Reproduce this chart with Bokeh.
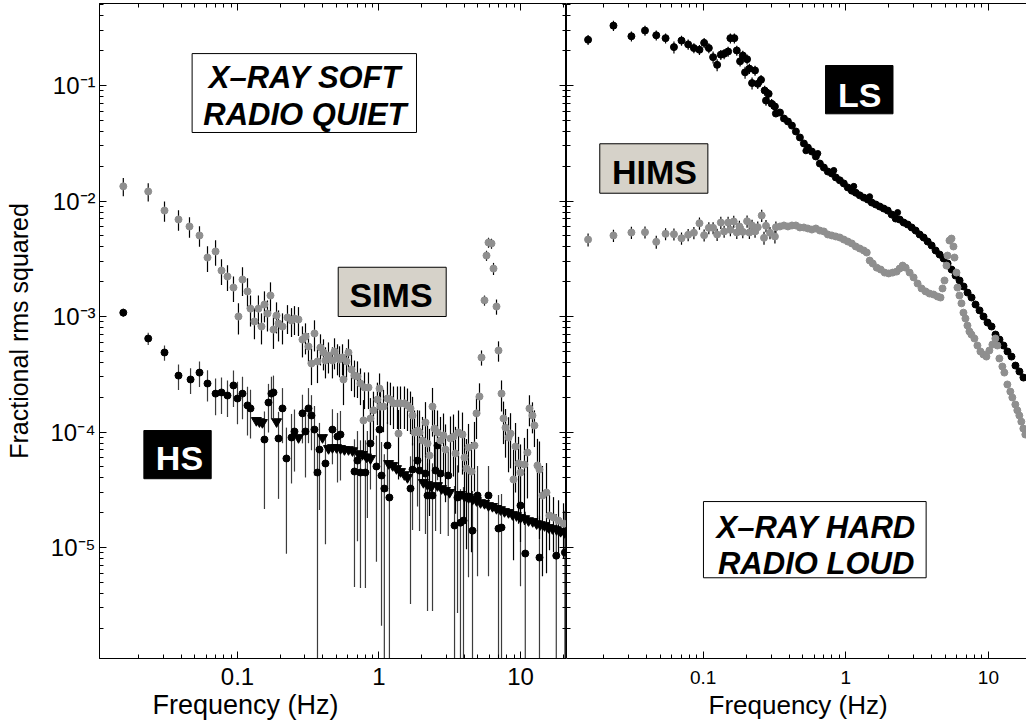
from bokeh.plotting import figure
from bokeh.models import Range1d, LogAxis, FixedTicker, Label, BoxAnnotation, ColumnDataSource, CustomJSTickFormatter, Title
from bokeh.layouts import row
from bokeh.embed import file_html
from bokeh.resources import INLINE

FONT = "Liberation Sans"
GRAY = "#8f8f8f"
BOXGRAY = "#d6d2c9"

# ---------------- left panel: SIMS (grey) ----------------
sims_f = [0.0156,0.0234,0.0305,0.0383,0.0458,0.0539,0.0614,0.0700,0.0771,0.0850,
          0.0937,0.1016,0.1085,0.1177,0.1236,0.1318,0.1406,0.1478,0.1551,0.1629,
          0.1711,0.1796,0.1887,0.1950,0.2080,0.2256,0.2409,0.2528,0.2698,0.2879,
          0.3024,0.3175,0.3334,0.3501,0.3676,0.3860,0.4053,0.4186,0.4395,0.4689,
          0.4850,0.5092,0.5260,0.5523,0.5613,0.5893,0.6087,0.6392,0.6712,0.7047,
          0.7399,0.7769,0.7900,0.8427,0.8704,0.9140,0.9750,1.009,1.025,1.076,
          1.148,1.205,1.266,1.351,1.374,1.419,1.514,1.590,1.670,1.726,
          1.783,1.872,1.934,2.030,2.131,2.203,2.275,2.389,2.468,2.591,
          2.721,2.857,2.952,3.201,3.361,3.473,3.647,3.891,4.020,4.153,
          4.291,4.506,4.731,4.888,5.132,5.302,5.567,5.752,5.942,6.239,
          6.446,6.768,6.993,7.343,7.586,7.838,8.230,8.503,8.928,9.224,
          9.685,10.0,10.67,11.20,11.57,12.15,12.55,13.18,13.62,14.30,
          15.27,16.03,17.11,18.57,20.14]
sims_p = [1.34e-2,1.21e-2,8.27e-3,6.92e-3,6.02e-3,5.03e-3,3.24e-3,3.66e-3,2.50e-3,2.22e-3,
          1.78e-3,1.0e-3,2.09e-3,1.65e-3,1.17e-3,9.06e-4,1.17e-3,8.19e-4,1.27e-3,1.06e-3,
          1.52e-3,7.71e-4,1.02e-3,8.69e-4,8.19e-4,9.80e-4,9.23e-4,9.61e-4,9.42e-4,6.32e-4,
          6.71e-4,5.50e-4,3.92e-4,7.13e-4,4.08e-4,5.39e-4,4.88e-4,4.16e-4,4.59e-4,4.16e-4,
          4.98e-4,4.42e-4,4.25e-4,4.42e-4,2.85e-4,4.08e-4,4.88e-4,3.48e-4,3.08e-4,3.03e-4,
          2.63e-4,1.26e-4,2.43e-4,2.43e-4,1.31e-4,1.54e-4,1.91e-4,2.38e-4,1.66e-4,1.66e-4,
          1.95e-4,1.91e-4,1.77e-4,1.77e-4,9.70e-5,1.77e-4,1.77e-4,1.70e-4,1.60e-4,1.39e-4,
          9.90e-5,1.03e-4,9.90e-5,8.44e-5,1.21e-4,7.95e-5,6.26e-5,1.66e-4,1.07e-4,9.90e-5,
          8.44e-5,9.33e-5,7.05e-5,8.79e-5,9.14e-5,6.52e-5,9.90e-5,9.51e-5,6.01e-5,4.83e-5,
          7.34e-5,4.55e-5,7.64e-5,1.45e-4,2.03e-4,4.42e-4,1.38e-3,3.37e-3,4.37e-3,4.29e-3,
          2.60e-3,1.22e-3,5.08e-4,2.15e-4,1.31e-4,1.09e-4,8.96e-5,9.70e-5,3.88e-5,7.48e-5,
          5.34e-5,4.46e-5,5.23e-5,6.65e-5,1.60e-4,1.39e-4,1.14e-4,5.13e-5,4.73e-5,2.82e-5,
          2.99e-5,1.89e-5,1.82e-5,1.71e-5,1.61e-5]
sims_err = [0.18,0.18,0.2,0.2,0.2,0.2,
            0.25,0.25,0.25,0.25,0.25,0.3,
            0.28,0.3,0.3,0.3,0.3,0.3,0.3,0.3,
            0.3,0.32,0.3,0.3,0.3,0.28,0.28,0.28,0.28,0.3,
            0.3,0.3,0.35,0.3,0.35,0.3,0.3,0.3,0.3,0.3,
            0.3,0.3,0.3,0.3,0.4,0.3,0.3,0.35,0.35,0.35,
            0.35,0.5,0.35,0.35,0.5,0.45,0.4,0.35,0.4,0.4,
            0.4,0.4,0.4,0.4,0.6,0.4,0.4,0.4,0.4,0.45,
            0.55,0.5,0.55,0.6,0.5,0.6,0.7,0.45,0.55,0.55,
            0.6,0.55,0.65,0.55,0.55,0.7,0.55,0.55,0.7,0.8,
            0.6,0.8,0.6,0.4,0.3,0.15,0.1,0.1,0.1,0.1,
            0.12,0.15,0.2,0.3,0.4,0.45,0.5,0.5,0.8,0.6,
            0.7,0.75,0.7,0.6,0.3,0.3,0.35,0.7,0.75,0.8,
            0.8,0.5,0.5,0.5,0.5]

# ---------------- left panel: HS (black) ----------------
hs_f = [0.0156,0.0234,0.0305,0.0383,0.0466,0.0539,0.0614,0.0700,0.0771,0.0850,
        0.0937,0.1000,0.1085,0.1177,0.1236,0.1551,0.1656,0.1738,0.1796,0.1950,
        0.2080,0.2218,0.2409,0.2528,0.2879,0.3024,0.3175,0.3334,0.3501,0.3676,
        0.3797,0.4186,0.4689,0.5092,0.5343,0.6712,0.7047,0.7399,0.8020,0.8280,
        0.8704,0.9596,1.009,1.042,1.091,1.148,1.185,1.670,1.726,1.872,
        1.934,2.131,2.203,2.389,2.511,2.591,2.721,3.087,3.419,3.589,
        3.766,3.955,4.291,4.58,4.97,5.942,6.993,7.343,10.0,10.81,
        13.62,17.9,20.6]
hs_p = [1.08e-3,6.45e-4,4.88e-4,3.08e-4,2.85e-4,3.27e-4,2.63e-4,2.15e-4,2.20e-4,2.07e-4,
        2.53e-4,1.95e-4,2.15e-4,1.70e-4,1.60e-4,8.61e-5,1.80e-4,2.15e-4,2.20e-4,8.79e-5,
        1.60e-4,5.90e-5,8.96e-5,1.01e-4,1.45e-4,1.01e-4,1.60e-4,1.39e-4,1.05e-4,4.46e-5,
        7.05e-5,5.34e-5,1.05e-4,9.14e-5,9.51e-5,4.55e-5,5.66e-5,4.46e-5,4.46e-5,6.01e-5,
        7.95e-5,5.03e-5,1.05e-4,4.20e-5,3.24e-5,7.64e-5,2.71e-5,3.24e-5,4.73e-5,5.66e-5,
        4.64e-5,4.37e-5,2.82e-5,2.82e-5,4.64e-5,7.64e-5,4.37e-5,4.20e-5,1.55e-5,2.71e-5,
        1.64e-5,1.71e-5,2.77e-5,1.40e-5,2.82e-5,2.82e-5,1.46e-5,1.49e-5,2.31e-5,8.87e-6,
        8.19e-6,8.5e-6,9.06e-6]
hs_err = [0.08,0.12,0.15,0.25,0.25,0.25,0.3,0.35,0.35,0.35,
          0.35,0.4,0.4,0.45,0.45,0.75,0.45,0.4,0.4,0.7,
          0.5,0.85,0.6,0.55,0.45,0.6,0.5,0.5,0.6,1.2,
          0.7,0.8,0.5,0.6,0.6,0.9,0.8,0.9,0.9,0.7,
          0.6,0.85,0.5,0.95,0.98,0.6,1.1,0.9,0.7,0.6,
          0.7,0.7,0.9,0.9,0.7,0.5,0.7,0.7,1.2,0.9,
          0.95,0.95,0.8,1.2,0.8,0.8,0.95,0.95,0.8,1.3,
          1.3,1.3,1.3]

# HS upper limits (triangles)
hs_ul_f = [0.136,0.143,0.150,0.189,0.270,0.399,0.440,0.469,0.501,0.535,
           0.570,0.609,0.650,0.716,0.764,0.816,0.871,1.17,1.25,1.33,
           1.42,1.51,1.59,2.06,2.20,2.35,2.59,2.77,2.95,3.15,
           3.77,4.02,4.30,4.58,4.89,5.22,5.57,5.94,6.34,6.77,
           7.22,7.71,8.23,8.78,9.37,10.0,10.7,11.4,12.2,13.0,
           13.8,14.8,15.8,16.8,18.0,19.2,20.5]
hs_ul_p = [1.26e-4,1.23e-4,1.21e-4,1.23e-4,8.96e-5,8.96e-5,7.2e-5,7.34e-5,7.34e-5,7.2e-5,
           7.05e-5,7.05e-5,6.9e-5,6.5e-5,6.4e-5,6.1e-5,5.9e-5,5.34e-5,5.13e-5,4.83e-5,
           4.55e-5,4.28e-5,4.04e-5,3.66e-5,3.51e-5,3.37e-5,3.44e-5,3.24e-5,3.12e-5,3.0e-5,
           2.88e-5,2.77e-5,2.71e-5,2.61e-5,2.55e-5,2.45e-5,2.41e-5,2.31e-5,2.27e-5,2.18e-5,
           2.13e-5,2.05e-5,2.01e-5,1.93e-5,1.89e-5,1.82e-5,1.78e-5,1.71e-5,1.68e-5,1.61e-5,
           1.58e-5,1.55e-5,1.49e-5,1.46e-5,1.43e-5,1.38e-5,1.35e-5]

# ---------------- right panel: LS (black) ----------------
ls_f = [0.0156,0.0235,0.0314,0.0391,0.0469,0.0545,0.0624,0.0705,0.0785,0.0861,
        0.0942,0.1016,0.1096,0.1174,0.1253,0.1330,0.1403,0.1496,0.1552,0.1655,
        0.1721,0.1815,0.1896,0.1967,0.2032,0.2109,0.2202,0.2311,0.2414,0.2546,
        0.2700,0.2758,0.2879,0.3022,0.3186]
ls_p = [0.249,0.330,0.267,0.299,0.272,0.257,0.215,0.245,0.227,0.211,
        0.204,0.234,0.211,0.176,0.151,0.185,0.188,0.197,0.257,0.257,
        0.201,0.162,0.182,0.130,0.169,0.140,0.105,0.135,0.1035,0.112,
        0.0905,0.0741,0.0848,0.0695,0.0658]
ls_err = [0.1,0.1,0.1,0.1,0.1,0.1,0.12,0.1,0.1,0.1,
          0.1,0.1,0.1,0.12,0.12,0.1,0.1,0.1,0.1,0.1,
          0.1,0.1,0.1,0.12,0.1,0.1,0.12,0.1,0.1,0.1,
          0.1,0.1,0.1,0.1,0.1]
ls_hf_f = [0.3236,0.3455,0.3686,0.3930,0.4192,0.4470,0.4768,0.5085,0.5424,0.5785,
           0.6170,0.6581,0.7019,0.7486,0.7984,0.8515,0.9082,0.9687,1.033,1.102,
           1.175,1.253,1.337,1.426,1.521,1.622,1.730,1.845,1.968,2.099,
           2.239,2.388,2.547,2.716,2.897,3.090,3.296,3.515,3.749,3.999,
           4.265,4.549,4.852,5.175,5.520,5.887,6.279,6.697,7.143,7.619,
           8.126,8.667,9.244,9.860,10.52,11.22,11.96,12.76,13.61,14.52,
           15.48,16.51,17.61]
ls_hf_p = [0.0572,0.0584,0.0518,0.0488,0.0450,0.0400,0.0355,0.0315,0.0290,0.0268,
           0.0243,0.0211,0.0195,0.0180,0.0173,0.0160,0.0151,0.0142,0.0131,0.0123,
           0.0118,0.0112,0.0107,0.0103,9.70e-3,9.33e-3,8.96e-3,8.61e-3,8.27e-3,7.64e-3,
           7.05e-3,6.91e-3,6.51e-3,6.26e-3,5.90e-3,5.55e-3,5.13e-3,4.83e-3,4.46e-3,4.12e-3,
           3.73e-3,3.44e-3,3.18e-3,2.88e-3,2.55e-3,2.26e-3,2.05e-3,1.82e-3,1.61e-3,1.46e-3,
           1.27e-3,1.13e-3,1.0e-3,8.87e-4,8.19e-4,6.98e-4,6.32e-4,5.61e-4,4.98e-4,4.50e-4,
           3.76e-4,3.34e-4,2.96e-4]
# scattered LS points off the main track (0.5-2 Hz)
ls_sc_f = [0.525, 0.637, 0.824, 1.138, 1.47, 2.31]
ls_sc_p = [0.0272, 0.0258, 0.0184, 0.0134, 0.0109, 7.95e-3]

# ---------------- right panel: HIMS (grey) ----------------
hims_f = [0.0156,0.0235,0.0314,0.0391,0.0469,0.0545,0.0624,0.0705,0.0785,0.0861,
          0.0942,0.1016,0.1096,0.1174,0.1253,0.1330,0.1403,0.1496,0.1552,0.1639,
          0.1721,0.1795,0.1896,0.2032,0.2109,0.2202,0.2311,0.2414,0.2573,0.2671,
          0.2758,0.2941,0.3186,0.3236]
hims_p = [4.64e-3,5.03e-3,5.34e-3,5.37e-3,4.43e-3,5.20e-3,5.16e-3,4.76e-3,5.10e-3,5.31e-3,
          6.42e-3,5.06e-3,5.86e-3,5.86e-3,5.13e-3,6.51e-3,5.45e-3,6.51e-3,5.63e-3,6.65e-3,
          5.34e-3,6.02e-3,5.41e-3,6.68e-3,5.34e-3,6.14e-3,5.45e-3,5.93e-3,7.49e-3,4.80e-3,
          6.10e-3,5.31e-3,4.93e-3,5.93e-3]
hims_err = [0.13,0.12,0.12,0.12,0.13,0.12,0.12,0.12,0.12,0.12,
            0.12,0.12,0.12,0.12,0.12,0.12,0.12,0.12,0.12,0.12,
            0.12,0.12,0.12,0.12,0.12,0.12,0.12,0.12,0.12,0.13,
            0.12,0.12,0.13,0.12]
hims_hf_f = [0.3455,0.3686,0.3930,0.4192,0.4470,0.4768,0.5085,0.5424,0.5785,0.6170,
             0.6581,0.7019,0.7486,0.7984,0.8515,0.9082,0.9687,1.033,1.102,1.175,
             1.253,1.337,1.403,1.472,1.545,1.648,1.757,1.874,1.999,2.132,
             2.274,2.386,2.504,2.628,2.803,2.989,3.188,3.400,3.626,3.867,
             4.125,4.399,4.617,4.768,4.924,5.085,5.167,5.336,5.511,5.690,
             5.783,5.972,6.069,6.268,6.473,6.685,6.904,7.130,7.363,7.605,
             7.981,8.377,8.793,9.226,9.683,10.16,10.67,11.19,11.56,11.94,
             12.53,12.94,13.58,14.25,14.72,15.45,15.95,16.48,17.02,17.58,
             18.15]
hims_hf_p = [6.02e-3,6.14e-3,6.02e-3,6.14e-3,6.14e-3,5.90e-3,5.90e-3,5.78e-3,5.66e-3,5.78e-3,
             5.55e-3,5.45e-3,5.13e-3,5.03e-3,4.93e-3,4.83e-3,4.64e-3,4.46e-3,4.29e-3,4.04e-3,
             3.88e-3,3.73e-3,3.58e-3,3.05e-3,2.88e-3,2.65e-3,2.55e-3,2.40e-3,2.36e-3,2.40e-3,
             2.45e-3,2.60e-3,2.76e-3,2.65e-3,2.40e-3,2.18e-3,1.93e-3,1.75e-3,1.65e-3,1.58e-3,
             1.55e-3,1.49e-3,1.46e-3,1.75e-3,2.05e-3,2.76e-3,3.37e-3,4.55e-3,4.73e-3,4.04e-3,
             3.24e-3,2.40e-3,1.78e-3,1.52e-3,1.30e-3,1.08e-3,9.61e-4,8.36e-4,7.42e-4,6.98e-4,
             6.45e-4,5.61e-4,4.98e-4,4.69e-4,4.50e-4,5.08e-4,5.72e-4,6.45e-4,5.61e-4,4.33e-4,
             3.69e-4,3.27e-4,2.58e-4,2.24e-4,1.99e-4,1.73e-4,1.54e-4,1.39e-4,1.23e-4,1.07e-4,
             9.51e-5]

# ---------------- axes ----------------
x_major = [0.1, 1, 10]
x_minor = [0.02,0.03,0.04,0.05,0.06,0.07,0.08,0.09,0.2,0.3,0.4,0.5,0.6,0.7,0.8,0.9,
           2,3,4,5,6,7,8,9,20]
y_major = [1e-5, 1e-4, 1e-3, 1e-2, 1e-1]
y_minor = [m * 10.0 ** e for e in range(-6, 0) for m in range(2, 10)]

Y_START, Y_END = 1.094e-6, 0.513
HEIGHT = 725

fmt_x = CustomJSTickFormatter(code="return String(tick);")
fmt_y = CustomJSTickFormatter(code=r"""
const e = Math.round(Math.log10(tick));
const m = {"0":"\u2070","1":"\u00b9","2":"\u00b2","3":"\u00b3","4":"\u2074","5":"\u2075","6":"\u2076","7":"\u2077","8":"\u2078","9":"\u2079","-":"\u207b"};
return "10" + String(e).split("").map(c => m[c]).join("");
""")


def style(ax, major, minor, fmt=None, size="0px", standoff=0):
    ax.ticker = FixedTicker(ticks=major, minor_ticks=minor)
    ax.major_tick_in = 7
    ax.major_tick_out = 0
    ax.minor_tick_in = 4
    ax.minor_tick_out = 0
    ax.axis_line_color = "black"
    ax.major_tick_line_color = "black"
    ax.minor_tick_line_color = "black"
    ax.major_label_text_font = FONT
    ax.major_label_text_color = "black"
    ax.major_label_text_font_size = size
    ax.major_label_standoff = standoff
    ax.formatter = fmt if fmt is not None else CustomJSTickFormatter(code="return '';")


def make_fig(width, x_start, x_end, left_border):
    p = figure(width=width, height=HEIGHT, x_axis_type="log", y_axis_type="log",
               x_range=Range1d(x_start, x_end), y_range=Range1d(Y_START, Y_END),
               output_backend="svg", toolbar_location=None,
               min_border_left=left_border, min_border_right=0,
               min_border_top=3, min_border_bottom=67)
    p.xgrid.visible = False
    p.ygrid.visible = False
    p.background_fill_color = "white"
    p.border_fill_color = "white"
    return p


def bars(p, f, pw, frac, color):
    lo = [max(v - v * e, 1e-9) for v, e in zip(pw, frac)]
    hi = [v + v * e for v, e in zip(pw, frac)]
    src = ColumnDataSource(dict(x=f, lo=lo, hi=hi))
    p.segment(x0="x", y0="lo", x1="x", y1="hi", source=src, line_color=color, line_width=1.2)


def add_box(p, l, r, b, t, fill):
    p.add_layout(BoxAnnotation(left=l, right=r, bottom=b, top=t, fill_color=fill, fill_alpha=1.0,
                               line_color="black", line_width=1, line_alpha=1.0))


def add_text(p, x, y, txt, size, style_, color="black"):
    p.add_layout(Label(x=x, y=y, text=txt, text_font=FONT, text_font_size=size,
                       text_font_style=style_, text_color=color, text_align="center",
                       text_baseline="middle"))


def add_xlabel(p, offset, size, standoff):
    p.add_layout(Title(text="Frequency (Hz)", align="left", offset=offset, standoff=standoff,
                       text_font=FONT, text_font_size=size, text_font_style="normal",
                       text_color="black"), "below")


# ---------------- left figure ----------------
p1 = make_fig(566, 0.01059, 21.14, 99)
p1.outline_line_color = "black"
style(p1.xaxis[0], x_major, x_minor, fmt_x, "24px", 9)
style(p1.yaxis[0], y_major, y_minor, fmt_y, "24px", 4)
p1.yaxis[0].axis_label = "Fractional rms squared"
p1.yaxis[0].axis_label_text_font = FONT
p1.yaxis[0].axis_label_text_font_size = "25px"
p1.yaxis[0].axis_label_text_font_style = "normal"
p1.yaxis[0].axis_label_text_color = "black"
p1.yaxis[0].axis_label_standoff = 14
top1 = LogAxis(); style(top1, x_major, x_minor); p1.add_layout(top1, "above")
right1 = LogAxis(); style(right1, y_major, y_minor); p1.add_layout(right1, "right")
add_xlabel(p1, 53, "27px", 0)

bars(p1, hs_f, hs_p, hs_err, "#3c3c3c")
p1.scatter(hs_f, hs_p, marker="circle", size=7, fill_color="black", line_color="black")
p1.scatter(hs_ul_f, hs_ul_p, marker="inverted_triangle", size=10, fill_color="black", line_color="black")
bars(p1, sims_f, sims_p, sims_err, "black")
p1.scatter(sims_f, sims_p, marker="circle", size=7, fill_color=GRAY, line_color=GRAY)

add_box(p1, 0.0478, 1.841, 0.0392, 0.189, "white")
add_text(p1, 0.2997, 0.1173, "X\u2013RAY SOFT", "31px", "bold italic")
add_text(p1, 0.2997, 0.05609, "RADIO QUIET", "31px", "bold italic")
add_box(p1, 0.515, 2.985, 1.0e-3, 2.67e-3, BOXGRAY)
add_text(p1, 1.216, 1.550e-3, "SIMS", "34px", "bold")
add_box(p1, 0.0218, 0.0652, 3.94e-5, 1.03e-4, "black")
add_text(p1, 0.0389, 5.954e-5, "HS", "34px", "bold", "white")

# ---------------- right figure ----------------
p2 = make_fig(460, 0.01101, 18.5, 0)
p2.outline_line_color = None
style(p2.xaxis[0], x_major, x_minor, fmt_x, "19px", 12)
style(p2.yaxis[0], y_major, y_minor)
top2 = LogAxis(); style(top2, x_major, x_minor); p2.add_layout(top2, "above")
add_xlabel(p2, 142, "26px", 3)

bars(p2, ls_f, ls_p, ls_err, "black")
p2.scatter(ls_f, ls_p, marker="circle", size=7, fill_color="black", line_color="black")
p2.scatter(ls_hf_f, ls_hf_p, marker="circle", size=7, fill_color="black", line_color="black")
p2.scatter(ls_sc_f, ls_sc_p, marker="circle", size=6, fill_color="black", line_color="black")
bars(p2, hims_f, hims_p, hims_err, "black")
p2.scatter(hims_f, hims_p, marker="circle", size=7, fill_color=GRAY, line_color=GRAY)
p2.scatter(hims_hf_f, hims_hf_p, marker="circle", size=7, fill_color=GRAY, line_color=GRAY)

add_box(p2, 0.721, 2.143, 0.0569, 0.149, "black")
add_text(p2, 1.253, 0.08359, "LS", "34px", "bold", "white")
add_box(p2, 0.01884, 0.1079, 0.01168, 0.0313, BOXGRAY)
add_text(p2, 0.0456, 0.01800, "HIMS", "34px", "bold")
add_box(p2, 0.1005, 3.66, 5.47e-6, 2.50e-5, "white")
add_text(p2, 0.6197, 1.499e-5, "X\u2013RAY HARD", "31px", "bold italic")
add_text(p2, 0.6197, 7.270e-6, "RADIO LOUD", "31px", "bold italic")

layout = row(p1, p2)
open("out.html", "w").write(file_html(layout, INLINE))
